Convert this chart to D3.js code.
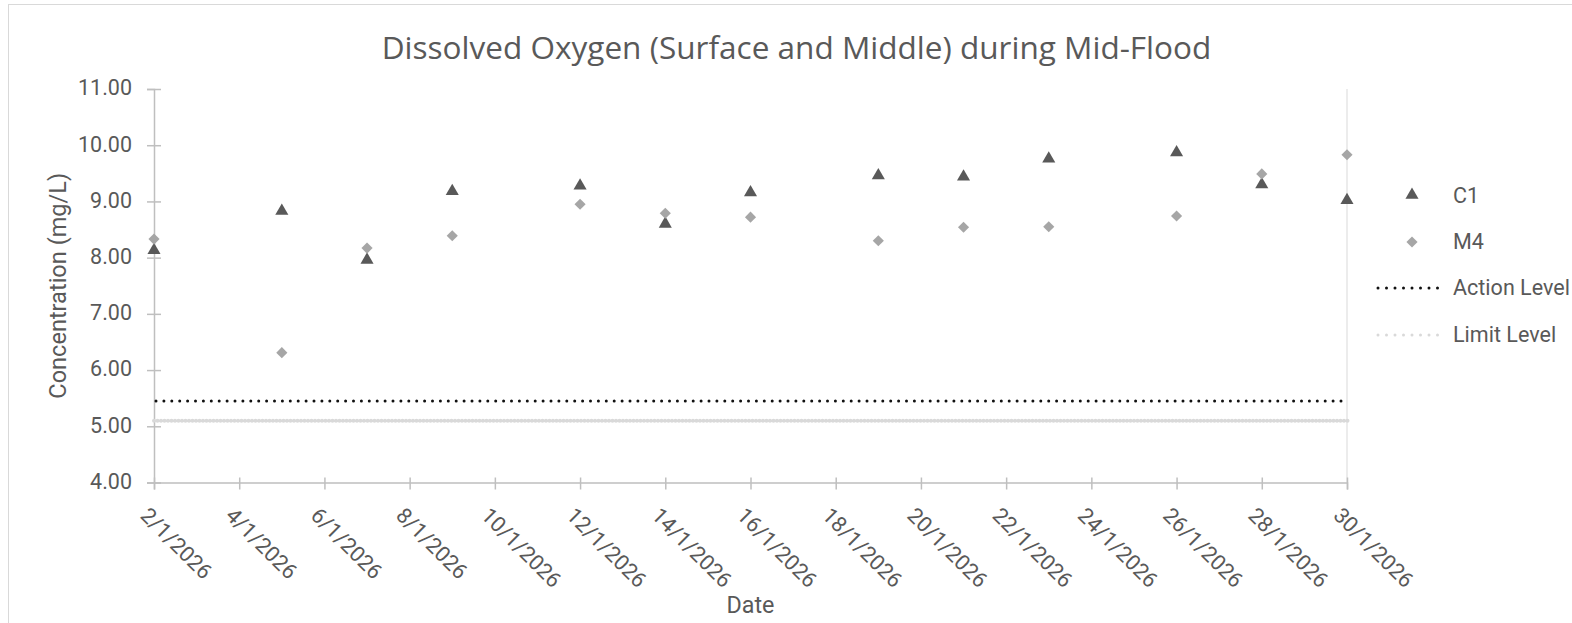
<!DOCTYPE html>
<html>
<head>
<meta charset="utf-8">
<script src="https://cdn.jsdelivr.net/npm/d3@7"></script>
<style>
  html, body { margin: 0; padding: 0; background: #fff; overflow: hidden; }
  svg { display: block; }
</style>
</head>
<body>
<svg id="chart" width="1572" height="623"></svg>
<script>
// ---- data ----
const sampleDates = ["2/1/2026","5/1/2026","7/1/2026","9/1/2026","12/1/2026","14/1/2026","16/1/2026","19/1/2026","21/1/2026","23/1/2026","26/1/2026","28/1/2026","30/1/2026"];
const c1Values = [8.13, 8.83, 7.96, 9.18, 9.28, 8.60, 9.16, 9.46, 9.44, 9.76, 9.87, 9.30, 9.02];
const m4Values = [8.33, 6.31, 8.17, 8.39, 8.95, 8.79, 8.72, 8.30, 8.54, 8.55, 8.74, 9.49, 9.83];
const actionLevel = 5.45;
const limitLevel = 5.10;
const xTickLabels = ["2/1/2026","4/1/2026","6/1/2026","8/1/2026","10/1/2026","12/1/2026","14/1/2026","16/1/2026","18/1/2026","20/1/2026","22/1/2026","24/1/2026","26/1/2026","28/1/2026","30/1/2026"];
const yTickValues = [4, 5, 6, 7, 8, 9, 10, 11];
const seriesNames = ["C1", "M4"];
const levelNames = ["Action Level", "Limit Level"];
const titleText = "Dissolved Oxygen (Surface and Middle) during Mid-Flood";
const yAxisTitle = "Concentration (mg/L)";
const xAxisTitle = "Date";

// ---- layout ----
const parse = d3.timeParse("%d/%m/%Y");
const plotL = 154, plotR = 1347, plotT = 89, plotB = 482.5;
const textColor = "#595959";
const axisColor = "#bfbfbf";
const c1Color = "#595959";
const m4Color = "#a6a6a6";
const fontMain = "Roboto, 'Noto Sans', sans-serif";

const svg = d3.select("#chart");

// chart border
svg.append("rect").attr("x", 8.5).attr("y", 4.5).attr("width", 1700).attr("height", 800)
  .attr("fill", "#fff").attr("stroke", "#d9d9d9").attr("stroke-width", 1);

const x = d3.scaleTime().domain([parse(xTickLabels[0]), parse(xTickLabels[xTickLabels.length - 1])]).range([plotL, plotR]);
const y = d3.scaleLinear().domain([4, 11]).range([plotB, plotT]);

function fitText(sel, targetWidth, baseSize) {
  sel.attr("font-size", baseSize);
  const w = sel.node().getComputedTextLength();
  const s = baseSize * targetWidth / w;
  sel.attr("font-size", s);
  return s;
}

// right plot border line
svg.append("line").attr("x1", plotR).attr("x2", plotR).attr("y1", plotT).attr("y2", plotB)
  .attr("stroke", "#d9d9d9").attr("stroke-width", 1);

// y axis
const yAxis = svg.append("g").attr("transform", `translate(${plotL},0)`)
  .call(d3.axisLeft(y).tickValues(yTickValues).tickFormat(d3.format(".2f")).tickSize(7));
yAxis.attr("font-size", null).attr("font-family", null);
yAxis.select(".domain").attr("stroke", axisColor).attr("stroke-width", 1.5);
yAxis.selectAll(".tick line").attr("stroke", axisColor).attr("stroke-width", 1.5).attr("x1", 7).attr("x2", -7);
const yTickText = yAxis.selectAll(".tick text").attr("fill", textColor).attr("font-family", fontMain)
  .attr("dy", "0.32em").attr("y", -1).attr("x", -22);
const yFontSize = fitText(d3.select(yTickText.nodes()[yTickText.size() - 1]), 54, 20);
yTickText.attr("font-size", yFontSize);

// x axis
const xAxis = svg.append("g").attr("transform", `translate(0,${plotB})`)
  .call(d3.axisBottom(x).tickValues(xTickLabels.map(parse)).tickFormat((d, i) => xTickLabels[i]).tickSize(7));
xAxis.attr("font-size", null).attr("font-family", null);
xAxis.select(".domain").attr("stroke", axisColor).attr("stroke-width", 1.5);
xAxis.selectAll(".tick line").attr("stroke", axisColor).attr("stroke-width", 1.5).attr("y1", -5).attr("y2", 7);
xAxis.selectAll(".tick text")
  .attr("fill", textColor).attr("font-family", fontMain).attr("font-size", yFontSize)
  .attr("text-anchor", "start").attr("dominant-baseline", "hanging").attr("dy", 0)
  .attr("y", 0).attr("x", 0)
  .attr("transform", "translate(-4,23) rotate(45)");

// level lines
svg.append("line").attr("x1", plotL).attr("x2", plotR + 2).attr("y1", y(limitLevel)).attr("y2", y(limitLevel))
  .attr("stroke", "#d9d9d9").attr("stroke-width", 4).attr("stroke-linecap", "round").attr("stroke-dasharray", "0 3.5");
svg.append("line").attr("x1", plotL + 2).attr("x2", plotR - 2).attr("y1", y(actionLevel)).attr("y2", y(actionLevel))
  .attr("stroke", "#111").attr("stroke-width", 3).attr("stroke-linecap", "round").attr("stroke-dasharray", "0 7.9");

// markers
const tri = d3.symbol().type(d3.symbolTriangle).size(74);
const dia = d3.symbol().type(d3.symbolSquare).size(62);

svg.append("g").selectAll("path").data(sampleDates.map((d, i) => ({ d: parse(d), v: c1Values[i] })))
  .join("path").attr("d", tri).attr("fill", c1Color)
  .attr("transform", p => `translate(${x(p.d)},${y(p.v)})`);
svg.append("g").selectAll("path").data(sampleDates.map((d, i) => ({ d: parse(d), v: m4Values[i] })))
  .join("path").attr("d", dia).attr("fill", m4Color)
  .attr("transform", p => `translate(${x(p.d)},${y(p.v)}) rotate(45)`);

// title
const title = svg.append("text").attr("x", (plotL + plotR) / 2 + 46).attr("y", 59).attr("text-anchor", "middle")
  .attr("fill", textColor).attr("font-family", "'Open Sans', 'Noto Sans', sans-serif").text(titleText);
fitText(title, 830, 28);

// axis titles
const yt = svg.append("text").attr("text-anchor", "middle").attr("fill", textColor).attr("font-family", fontMain)
  .attr("transform", `translate(66,${(plotT + plotB) / 2}) rotate(-90)`).text(yAxisTitle);
fitText(yt, 226, 20);
const xt = svg.append("text").attr("x", (plotL + plotR) / 2).attr("y", 613).attr("text-anchor", "middle")
  .attr("fill", textColor).attr("font-family", fontMain).text(xAxisTitle);
fitText(xt, 48, 20);

// legend
const lg = svg.append("g");
lg.append("path").attr("d", tri).attr("fill", c1Color).attr("transform", "translate(1412,195)");
lg.append("path").attr("d", dia).attr("fill", m4Color).attr("transform", "translate(1412,242) rotate(45)");
lg.append("line").attr("x1", 1378).attr("x2", 1446).attr("y1", 288).attr("y2", 288)
  .attr("stroke", "#111").attr("stroke-width", 3).attr("stroke-linecap", "round").attr("stroke-dasharray", "0 8.5");
lg.append("line").attr("x1", 1378).attr("x2", 1446).attr("y1", 335).attr("y2", 335)
  .attr("stroke", "#d9d9d9").attr("stroke-width", 3).attr("stroke-linecap", "round").attr("stroke-dasharray", "0 8.5");
const legendLabels = [
  { t: seriesNames[0], x: 1453, y: 203 },
  { t: seriesNames[1], x: 1453, y: 249 },
  { t: levelNames[0], x: 1453, y: 295 },
  { t: levelNames[1], x: 1453, y: 342 }
];
const lt = lg.selectAll("text.lab").data(legendLabels).join("text").attr("class", "lab")
  .attr("x", d => d.x).attr("y", d => d.y).attr("fill", textColor).attr("font-family", fontMain).text(d => d.t);
const lfs = fitText(d3.select(lt.nodes()[2]), 117, 20);
lt.attr("font-size", lfs);
</script>
</body>
</html>
